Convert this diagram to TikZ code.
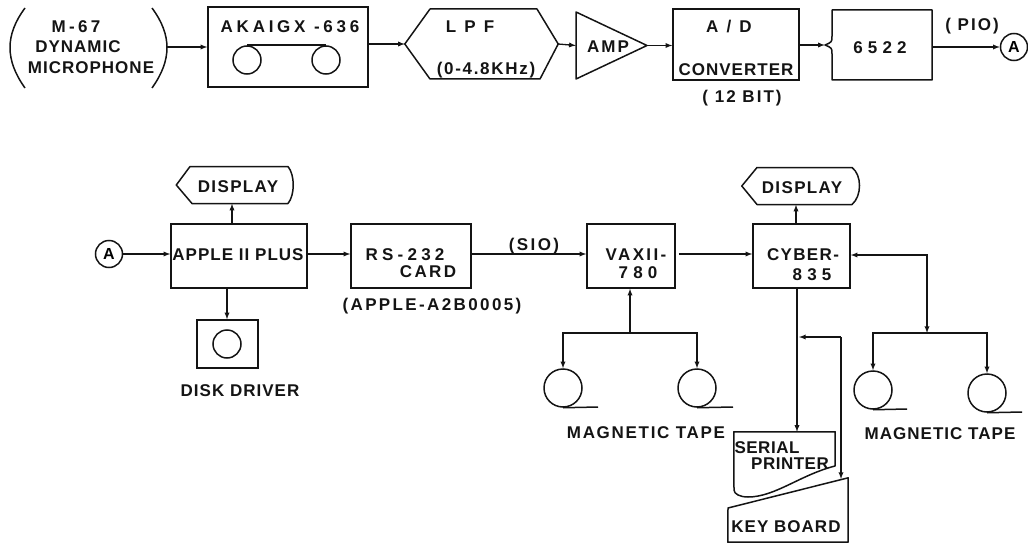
\documentclass[tikz,border=0pt]{standalone}
\usepackage{fontspec}
\setmainfont{Liberation Sans}[LetterSpace=6]
\usetikzlibrary{arrows,calc}
\definecolor{InkClr}{RGB}{20,20,20}

\tikzset{
  block/.style={draw=InkClr,line width=1.5pt,rectangle,minimum width=#1},
  block/.default=100pt,
  port/.style={draw=InkClr,line width=1.5pt,circle,inner sep=0pt,minimum size=27pt,font=\bfseries\fontsize{16}{16}\selectfont},
  reel/.style={draw=InkClr,line width=1.5pt,circle,inner sep=0pt,minimum size=#1},
  reel/.default=38pt,
  txt/.style={inner sep=0pt,text=InkClr,font=\bfseries\fontsize{17}{17}\selectfont},
  wide/.style={inner sep=0pt,text=InkClr,font=\bfseries\fontsize{17}{17}\selectfont\addfontfeature{LetterSpace=#1}},
  wide/.default=20,
  outline/.style={draw=InkClr,line width=1.5pt,line join=round},
  conn/.style={draw=InkClr,line width=1.3pt,-latex}
}

\begin{document}
\begin{tikzpicture}[x=1pt,y=-1pt]
\useasboundingbox (0,0) rectangle (1028,543);

% first row
\node[inner sep=0pt,minimum width=157pt,minimum height=80pt] (mic) at (88.5,48) {};
\draw[outline] (25,8) .. controls (5,35) and (5,60) .. (25,88);
\draw[outline] (152,8) .. controls (172,35) and (172,60) .. (152,88);
\node[wide=20] (micA) at (76,27) {M-67};
\node[txt] (micB) at (78,47) {DYNAMIC};
\node[txt] (micC) at (91,68) {MICROPHONE};

\node[block=160pt,minimum height=80pt] (akai) at (288,47) {};
\node[wide=22] (akaiT) at (290,27) {AKAIGX -636};
\node[reel=28pt] (reelA) at (247,60) {};
\node[reel=28pt] (reelB) at (326,60) {};
\draw[outline] (reelA.north) -- (reelB.north);

\node[inner sep=0pt,minimum width=153pt,minimum height=70pt] (lpf) at (481.5,44) {};
\draw[outline] (lpf.west) -- (430,9) -- (537,9) -- (lpf.east) -- (540,79) -- (430,79) -- cycle;
\node[wide] (lpfA) at (470,27) {L P F};
\node[wide=10] (lpfB) at (486,70) {(0-4.8KHz)};

\node[inner sep=0pt,minimum width=71pt,minimum height=67pt] (amp) at (611.5,45.5) {};
\draw[outline] (576,12) -- (647,45.5) -- (576,79) -- cycle;
\node[wide=12] (ampT) at (608,47) {AMP};

\node[block=126pt,minimum height=71pt] (adc) at (736,44.5) {};
\node[wide] (adcA) at (729,27) {A / D};
\node[txt] (adcB) at (736,70) {CONVERTER};
\node[wide=12] (adcC) at (742,98) {( 12 BIT)};

\node[inner sep=0pt,minimum width=107pt,minimum height=70pt] (via) at (878.5,45) {};
\draw[outline] (832,10) -- (932,10) -- (932,80) -- (832,80) -- (832,54) .. controls (832,48) .. (825,45) .. controls (832,42) .. (832,36) -- cycle;
\node[wide=30] (viaT) at (880,48) {6522};
\node[wide=12] (pio) at (972,26) {( PIO)};
\node[port] (portA) at (1014,47) {A};

\draw[conn] (mic.east |- akai) -- (akai.west);
\draw[conn] (akai.east |- lpf) -- (lpf.west);
\draw[conn] (lpf.east) -- (amp.west);
\draw[conn] (647,45.5) -- (adc.west |- amp);
\draw[conn] (adc.east |- via) -- (via.west);
\draw[conn] (via.east |- portA) -- (portA.west);

% second row
\node[port] (portB) at (109,254) {A};

\node[block=136pt,minimum height=64pt] (apple) at (239,256) {};
\node[txt] (appleT) at (238,255) {APPLE II PLUS};

\node[inner sep=0pt,minimum width=117pt,minimum height=37pt] (dispA) at (235,185) {};
\draw[outline] (dispA.west) -- (190,166.5) -- (288,166.5) .. controls (295,175) and (295,195) .. (288,203.5) -- (192,203.5) -- cycle;
\node[wide=8] (dispAT) at (238,187) {DISPLAY};

\node[block=61pt,minimum height=48pt] (disk) at (227.5,344) {};
\node[reel=28pt] (diskR) at (227,344) {};
\node[wide=6] (diskT) at (240,391) {DISK  DRIVER};

\node[block=120pt,minimum height=64pt] (rs) at (411,256) {};
\node[wide=25] (rsA) at (405,255) {RS-232};
\node[wide=14] (rsB) at (428,272) {CARD};
\node[wide=14] (rsC) at (432,306) {(APPLE-A2B0005)};
\node[wide=14] (sio) at (534,246) {(SIO)};

\node[block=88pt,minimum height=64pt] (vax) at (631,256) {};
\node[wide=14] (vaxA) at (636,255) {VAXII-};
\node[wide=30] (vaxB) at (638,273) {780};

\node[block=97pt,minimum height=64pt] (cyber) at (801.5,256) {};
\node[wide=8] (cyberA) at (803,255) {CYBER-};
\node[wide=30] (cyberB) at (812,275) {835};

\node[inner sep=0pt,minimum width=118pt,minimum height=37pt] (dispB) at (801,186) {};
\draw[outline] (dispB.west) -- (757,167.5) -- (852,167.5) .. controls (862,175) and (862,196) .. (852,204.5) -- (757,204.5) -- cycle;
\node[wide=8] (dispBT) at (802,188) {DISPLAY};

\draw[conn] (portB) -- (portB -| apple.west);
\draw[conn] (apple.east |- portB) -- (rs.west |- portB);
\draw[conn] (rs.east |- portB) -- (vax.west |- portB);
\draw[conn] ([xshift=3pt]vax.east |- portB) -- (cyber.west |- portB);
\draw[conn] (apple.north -| 232,0) -- (dispA.south -| 232,0);
\draw[conn] (cyber.north -| 796,0) -- (dispB.south -| 796,0);
\draw[conn] (apple.south -| diskR) -- (disk.north -| diskR);

% tapes
\coordinate (busA) at (630,333);
\coordinate (busB) at (927,333);
\node[reel] (tapeA) at (563,388) {};
\node[reel] (tapeB) at (697,388) {};
\node[reel] (tapeC) at (873,390) {};
\node[reel] (tapeD) at (987,393) {};
\draw[outline] (tapeA.south) -- (598,407);
\draw[outline] (tapeB.south) -- (733,407);
\draw[outline] (tapeC.south) -- (907,409);
\draw[outline] (tapeD.south) -- (1022,412);
\node[wide=10] (magA) at (646,433) {MAGNETIC  TAPE};
\node[wide=6] (magB) at (940,434) {MAGNETIC  TAPE};

\draw[conn] (busA) -- (busA |- vax.south);
\draw[conn] (busA) -- (tapeA.north |- busA) -- (tapeA.north);
\draw[conn] (busA) -- (tapeB.north |- busA) -- (tapeB.north);
\draw[conn] (cyber.east |- 0,255) ++(77,0) -- ++(-77,0);
\draw[conn] (927,255) -- (busB);
\draw[conn] (busB) -- (tapeC.north |- busB) -- (tapeC.north);
\draw[conn] (busB) -- (tapeD.north |- busB) -- (tapeD.north);

% terminal
\node[inner sep=0pt,minimum width=101pt,minimum height=65pt] (printer) at (784.5,464.5) {};
\draw[outline] (printer.north west) -- (printer.north east) -- (835,466) .. controls (800,475) and (775,497) .. (748,497) .. controls (740,497) and (734,494) .. (734,490) -- cycle;
\node[wide=3] (printerA) at (767,448) {SERIAL};
\node[wide=3] (printerB) at (790,464) {PRINTER};

\node[inner sep=0pt,minimum width=120pt,minimum height=64pt] (keyb) at (788,510) {};
\draw[outline] (keyb.north east) -- (keyb.south east) -- (keyb.south west) -- (728,508) -- cycle;
\node[txt] (keybT) at (786,527) {KEY BOARD};

\coordinate (turn) at (841,337);
\draw[conn] (cyber.south -| 797,0) -- (printer.north -| 797,0);
\draw[conn] (turn) -- (799,337);
\draw[conn] (turn) -- (841,479);
\end{tikzpicture}
\end{document}
